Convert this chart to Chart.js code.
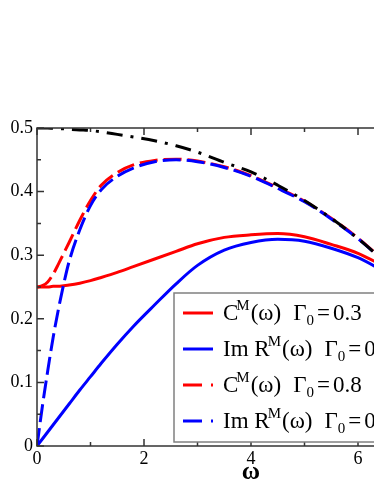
<!DOCTYPE html>
<html><head><meta charset="utf-8">
<script src="https://cdn.jsdelivr.net/npm/chart.js@4"></script>
<style>
html,body{margin:0;padding:0;overflow:hidden;background:#fff;width:374px;height:484px}
#wrap{position:absolute;left:0;top:0;width:474px;height:484px}
</style></head>
<body><div id="wrap"><canvas id="c" width="474" height="484"></canvas></div>
<script>
// ---- data ----
const omega  = [0,0.1,0.2,0.3,0.4,0.5,0.6,0.8,1.0,1.2,1.5,1.8,2.2,2.6,3.0,3.5,4.0,4.5,5.0,5.5,6.0,6.5];
const cM_03  = [0.25,0.25,0.25,0.251,0.251,0.252,0.253,0.256,0.26,0.265,0.273,0.282,0.294,0.306,0.318,0.328,0.332,0.334,0.329,0.317,0.303,0.282];
const imR_03 = [0,0.011,0.022,0.033,0.044,0.055,0.066,0.088,0.109,0.13,0.16,0.188,0.222,0.255,0.284,0.308,0.32,0.325,0.322,0.311,0.296,0.274];
const cM_08  = [0.25,0.252,0.258,0.27,0.286,0.303,0.32,0.355,0.386,0.41,0.43,0.442,0.449,0.451,0.448,0.439,0.425,0.406,0.385,0.358,0.327,0.29];
const imR_08 = [0,0.062,0.118,0.17,0.215,0.255,0.29,0.34,0.378,0.403,0.424,0.437,0.447,0.45,0.447,0.438,0.424,0.405,0.384,0.357,0.326,0.289];
const limitC = [0.5,0.5,0.5,0.4995,0.499,0.499,0.498,0.497,0.496,0.494,0.49,0.486,0.48,0.472,0.462,0.446,0.431,0.41,0.386,0.358,0.326,0.29];
const xMajorTicks = [0,2,4,6,8];
const xMinorTicks = [1,3,5,7];
const yMajorTicks = [0,0.1,0.2,0.3,0.4,0.5];
const yMinorTicks = [0.05,0.15,0.25,0.35,0.45];
const legendNames = ["C","Im R","C","Im R"];
const legendGammas = ["0.3","0.3","0.8","0.8"];
const xTitle = "ω";

const pts = ys => omega.map((x,i)=>({x:x,y:ys[i]}));
const SERIF = '"Liberation Serif","Times New Roman",serif';

const series = [
  {data:pts(limitC), color:'#000000', dash:[16,8,3,8], order:0},
  {data:pts(imR_08), color:'#0000ff', dash:[18,6], order:1},
  {data:pts(cM_08),  color:'#ff0000', dash:[18,6], order:2},
  {data:pts(imR_03), color:'#0000ff', dash:[], order:3},
  {data:pts(cM_03),  color:'#ff0000', dash:[], order:4}
];
const legendSeries = [
  {color:'#ff0000', dash:[]},
  {color:'#0000ff', dash:[]},
  {color:'#ff0000', dash:[19,9]},
  {color:'#0000ff', dash:[19,9]}
];

const framePlugin = {
  id:'frame',
  afterDraw(chart){
    const ctx = chart.ctx, a = chart.chartArea;
    const xs = chart.scales.x, ys = chart.scales.y;
    ctx.save();
    ctx.strokeStyle = '#333'; ctx.lineWidth = 1.5; ctx.setLineDash([]);
    ctx.strokeRect(a.left, a.top, a.right-a.left, a.bottom-a.top);
    ctx.beginPath();
    const tick = (v,len,isX)=>{
      if(isX){ const p = xs.getPixelForValue(v);
        ctx.moveTo(p,a.bottom); ctx.lineTo(p,a.bottom-len);
        ctx.moveTo(p,a.top); ctx.lineTo(p,a.top+len);
      } else { const p = ys.getPixelForValue(v);
        ctx.moveTo(a.left,p); ctx.lineTo(a.left+len,p);
        ctx.moveTo(a.right,p); ctx.lineTo(a.right-len,p);
      }
    };
    xMajorTicks.forEach(v=>tick(v,7,true));
    xMinorTicks.forEach(v=>tick(v,4,true));
    yMajorTicks.forEach(v=>tick(v,7,false));
    yMinorTicks.forEach(v=>tick(v,4,false));
    ctx.stroke();

    // legend box
    const bx=174, by=293, bw=262, bh=149;
    ctx.fillStyle='#fff'; ctx.fillRect(bx,by,bw,bh);
    ctx.strokeStyle='#808080'; ctx.lineWidth=1.5; ctx.strokeRect(bx,by,bw,bh);
    const baselines=[320,356,392,428];
    const BIG = '23px '+SERIF, SMALL = '15px '+SERIF;
    legendSeries.forEach((s,i)=>{
      const yb = baselines[i];
      ctx.save();
      ctx.strokeStyle=s.color; ctx.lineWidth=3; ctx.setLineDash(s.dash); ctx.lineCap='butt';
      ctx.beginPath(); ctx.moveTo(183,yb-7); ctx.lineTo(213,yb-7); ctx.stroke();
      ctx.restore();
      ctx.fillStyle='#000'; ctx.textBaseline='alphabetic'; ctx.textAlign='left';
      let x=223;
      ctx.font=BIG;
      ctx.fillText(legendNames[i],x,yb); x+=ctx.measureText(legendNames[i]).width;
      ctx.font=SMALL;
      ctx.fillText('M',x-2,yb-10); x+=ctx.measureText('M').width-2;
      ctx.font=BIG;
      ctx.fillText('(ω)',x+1,yb); x+=ctx.measureText('(ω)').width+1;
      let gx = x+12;
      ctx.fillText('Γ',gx,yb); gx+=ctx.measureText('Γ').width;
      ctx.font=SMALL;
      ctx.fillText('0',gx,yb+5); gx+=ctx.measureText('0').width+3;
      ctx.font=BIG;
      ctx.fillText('=',gx,yb); gx+=ctx.measureText('=').width+3;
      ctx.fillText(legendGammas[i],gx,yb);
    });
    ctx.restore();
  }
};

new Chart(document.getElementById('c'),{
  type:'line',
  data:{datasets:series.map(s=>({
    data:s.data, borderColor:s.color, borderWidth:3, borderDash:s.dash,
    pointRadius:0, fill:false, cubicInterpolationMode:'monotone', order:s.order
  }))},
  options:{
    responsive:false, animation:false, devicePixelRatio:1,
    layout:{padding:{top:128,right:9,left:0,bottom:0}},
    plugins:{legend:{display:false},tooltip:{enabled:false}},
    scales:{
      x:{type:'linear',min:0,max:8,
        grid:{display:false,drawTicks:false}, border:{display:false},
        afterBuildTicks:sc=>{sc.ticks=xMajorTicks.map(v=>({value:v}));},
        afterFit:sc=>{sc.height=38;},
        ticks:{font:{family:SERIF,size:18},color:'#000',padding:2,maxRotation:0,autoSkip:false,
          callback:v=>String(v)},
        title:{display:true,text:xTitle,font:{family:SERIF,size:25,weight:'bold',lineHeight:1},color:'#000',padding:{top:0,bottom:-1}}
      },
      y:{type:'linear',min:0,max:0.5,
        grid:{display:false,drawTicks:false}, border:{display:false},
        afterBuildTicks:sc=>{sc.ticks=yMajorTicks.map(v=>({value:v}));},
        afterFit:sc=>{sc.width=37;},
        ticks:{font:{family:SERIF,size:18},color:'#000',padding:4,autoSkip:false,
          callback:v=>v===0?'0':v.toFixed(1)}
      }
    }
  },
  plugins:[framePlugin]
});
</script>
</body></html>
